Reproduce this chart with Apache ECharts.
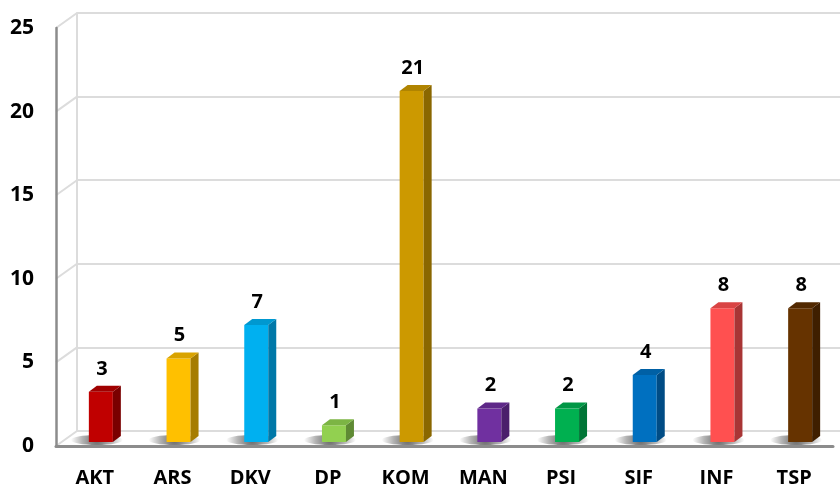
<!DOCTYPE html>
<html>
<head>
<meta charset="utf-8">
<script src="https://cdn.jsdelivr.net/npm/echarts@6/dist/echarts.min.js"></script>
<style>
  html, body { margin: 0; padding: 0; background: #fff; }
  #chart { width: 840px; height: 489px; }
</style>
</head>
<body>
<div id="chart"></div>
<script>
// categories and counts
const categories = ['AKT', 'ARS', 'DKV', 'DP', 'KOM', 'MAN', 'PSI', 'SIF', 'INF', 'TSP'];
const counts = [3, 5, 7, 1, 21, 2, 2, 4, 8, 8];
const yTicks = [0, 5, 10, 15, 20, 25];

// face colours per bar: front, side (darker), top
const frontColors = ['#C00000', '#FFC000', '#00B0F0', '#92D050', '#CC9900', '#7030A0', '#00B050', '#0070C0', '#FF5050', '#663300'];
const sideColors = ['#7A0000', '#A67C00', '#0078A8', '#5F8A34', '#8A6700', '#4A1F6B', '#007536', '#004C85', '#A83535', '#3F1F00'];
const topColors = ['#A00000', '#D9A300', '#0098D0', '#7CB544', '#B08400', '#5E2888', '#009645', '#0060A5', '#D94444', '#522900'];

const FONT = '"Open Sans", "DejaVu Sans", sans-serif';
const GRID_LINE = '#dcdcdc';

// 3D look: wall depth and bar depth in pixels
const WALL_DX = 21, WALL_DY = -15;
const BAR_W = 24, BAR_DX = 8, BAR_DY = -6;
const BAR_SHIFT_X = 6, BAR_SHIFT_Y = -4;

let chart = echarts.init(document.getElementById('chart'), null, { renderer: 'canvas' });

function renderBar(params, api) {
  const i = api.value(0);
  const v = api.value(1);
  const base = api.coord([i, 0]);
  const top = api.coord([i, v]);
  const x0 = base[0] + BAR_SHIFT_X - BAR_W / 2;
  const x1 = x0 + BAR_W;
  const yb = base[1] + BAR_SHIFT_Y;
  const yt = top[1] + BAR_SHIFT_Y;
  const sx = x0 + 8, sy = yb - 2;
  return {
    type: 'group',
    children: [
      {
        // soft floor shadow
        type: 'ellipse',
        shape: { cx: sx, cy: sy, rx: 26, ry: 5 },
        style: {
          fill: new echarts.graphic.RadialGradient(sx, sy, 26, [
            { offset: 0, color: 'rgba(0,0,0,0.6)' },
            { offset: 0.55, color: 'rgba(0,0,0,0.3)' },
            { offset: 1, color: 'rgba(0,0,0,0)' }
          ], true)
        },
        z2: 1
      },
      {
        type: 'rect',
        shape: { x: x0, y: yt, width: BAR_W, height: yb - yt },
        style: { fill: frontColors[i] },
        z2: 3
      },
      {
        type: 'polygon',
        shape: { points: [[x1, yb], [x1 + BAR_DX, yb + BAR_DY], [x1 + BAR_DX, yt + BAR_DY], [x1, yt]] },
        style: { fill: sideColors[i] },
        z2: 3
      },
      {
        type: 'polygon',
        shape: { points: [[x0, yt], [x0 + BAR_DX, yt + BAR_DY], [x1 + BAR_DX, yt + BAR_DY], [x1, yt]] },
        style: { fill: topColors[i] },
        z2: 3
      },
      {
        type: 'text',
        style: {
          text: String(v),
          x: x0 + BAR_W / 2 + 1,
          y: yt - 13,
          align: 'center',
          verticalAlign: 'bottom',
          fill: '#000',
          font: 'bold 20px ' + FONT
        },
        z2: 4
      }
    ]
  };
}

function renderSideWall(params, api) {
  const p = api.coord([0, api.value(0)]);
  const left = params.coordSys.x;
  return {
    type: 'line',
    shape: { x1: left, y1: p[1], x2: left + WALL_DX, y2: p[1] + WALL_DY },
    style: { stroke: GRID_LINE, lineWidth: 2 }
  };
}

const option = {
  animation: false,
  backgroundColor: '#fff',
  grid: [
    { left: 56, right: 7, top: 28, bottom: 43 },
    { left: 56 + WALL_DX, right: 0, top: 28 + WALL_DY, bottom: 43 - WALL_DY }
  ],
  xAxis: [
    {
      type: 'category',
      gridIndex: 0,
      data: categories,
      axisLine: { show: true, lineStyle: { color: '#8c8c8c', width: 3 } },
      axisTick: { show: false },
      axisLabel: { color: '#000', fontFamily: FONT, fontWeight: 'bold', fontSize: 20, margin: 22 },
      z: 10
    },
    {
      type: 'category',
      gridIndex: 1,
      data: categories,
      show: false
    }
  ],
  yAxis: [
    {
      type: 'value',
      gridIndex: 0,
      min: 0,
      max: 25,
      interval: 5,
      axisLine: { show: true, lineStyle: { color: '#8c8c8c', width: 2.5 } },
      axisTick: { show: false },
      splitLine: { show: false },
      axisLabel: { color: '#000', fontFamily: FONT, fontWeight: 'bold', fontSize: 21, margin: 22 },
      z: 10
    },
    {
      type: 'value',
      gridIndex: 1,
      min: 0,
      max: 25,
      interval: 5,
      axisLine: { show: true, lineStyle: { color: GRID_LINE, width: 2 } },
      axisTick: { show: false },
      axisLabel: { show: false },
      splitLine: { show: true, lineStyle: { color: GRID_LINE, width: 2 } }
    }
  ],
  series: [
    {
      type: 'custom',
      xAxisIndex: 0,
      yAxisIndex: 0,
      renderItem: renderSideWall,
      data: yTicks.map(t => [t]),
      silent: true,
      z: 1
    },
    {
      type: 'custom',
      xAxisIndex: 0,
      yAxisIndex: 0,
      renderItem: renderBar,
      data: counts.map((v, i) => [i, v]),
      z: 5
    }
  ]
};

chart.setOption(option);
</script>
</body>
</html>
